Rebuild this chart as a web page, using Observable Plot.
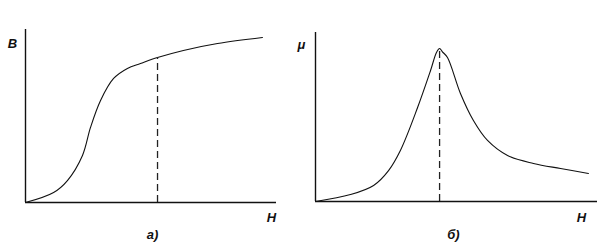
<!DOCTYPE html>
<html>
<head>
<meta charset="utf-8">
<script src="https://cdn.jsdelivr.net/npm/d3@7"></script>
<script src="https://cdn.jsdelivr.net/npm/@observablehq/plot@0.6"></script>
<style>
  html, body { margin: 0; padding: 0; background: #fff; }
  #wrap { display: flex; width: 607px; height: 246px; }
</style>
</head>
<body>
<div id="wrap"></div>
<script>
// Panel a) magnetisation curve B(H)
const bH = [0, 1.12, 1.67, 2.27, 2.59, 2.99, 3.51, 4.06, 4.58, 5.26, 6.29, 7.65, 9.44];
const bB = [0, 0.58, 1.27, 2.72, 4.34, 5.90, 7.17, 7.75, 8.03, 8.38, 8.79, 9.19, 9.54];
const bMark = {H: 5.26, v: 8.38};

// Panel б) permeability curve mu(H)
const mH = [0, 1.24, 2.06, 2.59, 3.01, 3.62, 4.08, 4.29, 4.40, 4.50, 4.68, 5.14, 5.60, 6.10, 6.81, 7.73, 8.69, 9.68];
const mMu = [0, 0.41, 0.95, 1.83, 3.02, 5.56, 7.75, 8.82, 9.05, 8.86, 8.52, 6.39, 4.79, 3.61, 2.72, 2.25, 1.95, 1.66];
const mMark = {H: 4.40, v: 9.05};

const labelsA = {y: "B", x: "H", caption: "а)"};
const labelsB = {y: "μ", x: "H", caption: "б)"};

const font = {fontFamily: "'Liberation Sans', Arial, sans-serif", fontWeight: "bold", fontStyle: "italic"};

function panel(H, V, mark, labels, opt) {
  const data = H.map((h, i) => ({H: h, v: V[i]}));
  return Plot.plot({
    width: opt.width, height: 246,
    marginLeft: opt.ml, marginRight: opt.mr, marginTop: opt.mt, marginBottom: opt.mb,
    x: {domain: [0, 10], axis: null},
    y: {domain: [0, 10], axis: null},
    style: {background: "white", overflow: "visible"},
    marks: [
      Plot.line(data, {x: "H", y: "v", curve: "catmull-rom", stroke: "#111", strokeWidth: 1.1}),
      Plot.ruleX([mark], {x: "H", y1: 0, y2: "v", stroke: "#222", strokeWidth: 1.3, strokeDasharray: "7,4"}),
      Plot.ruleX([0], {stroke: "#111", strokeWidth: 1.4}),
      Plot.ruleY([0], {stroke: "#111", strokeWidth: 1.4}),
      Plot.text([labels.y], {frameAnchor: "top-left", dx: opt.yl[0], dy: opt.yl[1], fontSize: 13, fill: "#111", ...font, textAnchor: "middle"}),
      Plot.text([labels.x], {frameAnchor: "bottom-right", dx: opt.xl[0], dy: opt.xl[1], fontSize: 13, fill: "#111", ...font, textAnchor: "middle"}),
      Plot.text([labels.caption], {frameAnchor: "bottom", dx: opt.cl[0], dy: opt.cl[1], fontSize: 13, fill: "#111", ...font, textAnchor: "middle"})
    ]
  });
}

const wrap = document.getElementById("wrap");
wrap.append(panel(bH, bB, bMark, labelsA, {width: 300, ml: 25, mr: 24, mt: 29, mb: 44, yl: [-13, 9], xl: [-5, 19], cl: [1.5, 36]}));
wrap.append(panel(mH, mMu, mMark, labelsB, {width: 307, ml: 15, mr: 10, mt: 32, mb: 45, yl: [-14, 7], xl: [-16, 20], cl: [-3, 37]}));
</script>
</body>
</html>
